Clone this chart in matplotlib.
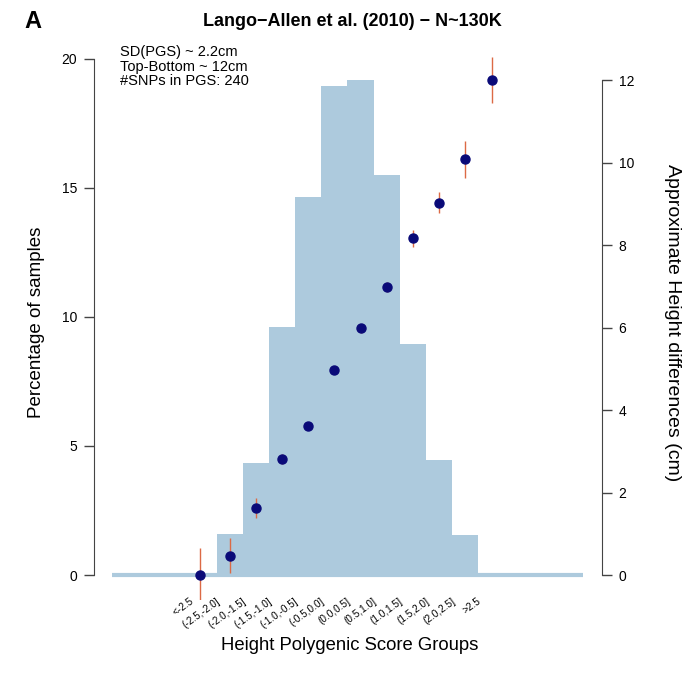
# Height PGS groups: sample share (bars) and height differences (points)
import numpy as np
import matplotlib.pyplot as plt
from matplotlib.transforms import ScaledTranslation

plt.rcParams['font.family'] = ['Liberation Sans', 'DejaVu Sans']

# Data
groups = ["<-2.5", "(-2.5,-2.0]", "(-2.0,-1.5]", "(-1.5,-1.0]", "(-1.0,-0.5]",
          "(-0.5,0.0]", "(0.0,0.5]", "(0.5,1.0]", "(1.0,1.5]", "(1.5,2.0]",
          "(2.0,2.5]", ">2.5"]
group_x = [-2.82, -2.25, -1.75, -1.25, -0.75, -0.25, 0.25, 0.75, 1.25, 1.75, 2.25, 2.77]
bin_edges = [-4.5, -2.5, -2.0, -1.5, -1.0, -0.5, 0.0, 0.5, 1.0, 1.5, 2.0, 2.5, 4.5]
pct_samples = [0.0, 1.6, 4.35, 9.6, 14.65, 18.95, 19.2, 15.5, 8.95, 4.45, 1.55, 0.0]
height_diff = [0.0, 0.47, 1.63, 2.82, 3.62, 4.97, 5.98, 6.99, 8.16, 9.03, 10.08, 12.0]
height_err = [0.65, 0.42, 0.24, 0.12, 0.08, 0.1, 0.1, 0.12, 0.2, 0.26, 0.45, 0.55]

bar_color = "#adcadd"

fig = plt.figure(figsize=(6.93, 6.79), dpi=100)
ax = fig.add_axes([0.1356, 0.1163, 0.7331, 0.8174])

ax.stairs(pct_samples, bin_edges, fill=True, color=bar_color, linewidth=0)
ax.plot([bin_edges[0], bin_edges[-1]], [0, 0], color=bar_color, lw=3,
        solid_capstyle="butt")
ax.set_xlim(-4.85, 4.87)
ax.set_ylim(-0.97, 20.54)
ax.set_yticks([0, 5, 10, 15, 20])
ax.set_ylabel("Percentage of samples", fontsize=13.5, labelpad=12)

ax2 = ax.twinx()
ax2.errorbar(group_x, height_diff, yerr=height_err, fmt="none",
             ecolor="#dc6a45", elinewidth=1)
ax2.plot(group_x, height_diff, "o", color="#0a0a78", ms=6.5)
ax2.set_ylim(-0.606, 12.85)
ax2.set_yticks([0, 2, 4, 6, 8, 10, 12])
ax2.set_ylabel("Approximate Height differences (cm)", fontsize=14,
               rotation=-90, labelpad=34)

for a in (ax, ax2):
    for s in a.spines.values():
        s.set_visible(False)
    a.tick_params(axis="y", length=7, width=1, labelsize=10, pad=5,
                  color="#444444")
ax.spines["left"].set_visible(True)
ax.spines["left"].set_bounds(0, 20)
ax.spines["left"].set_color("#444444")
ax2.spines["right"].set_visible(True)
ax2.spines["right"].set_bounds(0, 12)
ax2.spines["right"].set_color("#444444")

centers = np.array(bin_edges[1:-1])
centers = np.concatenate([[centers[0] - 0.25], centers[:-1] + 0.25, [centers[-1] + 0.25]])
ax.set_xticks(centers)
ax.set_xticklabels(groups, rotation=36, ha="right", va="top",
                   rotation_mode="anchor", fontsize=7.2)
ax.tick_params(axis="x", length=0, pad=0)
shift = ScaledTranslation(-14 / 100, 4 / 100, fig.dpi_scale_trans)
for lab in ax.get_xticklabels():
    lab.set_transform(lab.get_transform() + shift)

fig.text(0.505, 1 - 646 / 679, "Height Polygenic Score Groups",
         ha="center", va="center", fontsize=13.3)
fig.text(0.508, 1 - 21 / 679, "Lango\u2212Allen et al. (2010) \u2212 N~130K",
         ha="center", va="center", fontsize=13, fontweight="bold")
fig.text(24 / 693, 1 - 22 / 679, "A", ha="left", va="center",
         fontsize=17, fontweight="bold")

notes = ["SD(PGS) ~ 2.2cm", "Top-Bottom ~ 12cm", "#SNPs in PGS: 240"]
for i, line in enumerate(notes):
    fig.text(120 / 693, 1 - (52 + 14.5 * i) / 679, line, ha="left",
             va="center", fontsize=10.5)

fig.savefig("out.png", dpi=100)
